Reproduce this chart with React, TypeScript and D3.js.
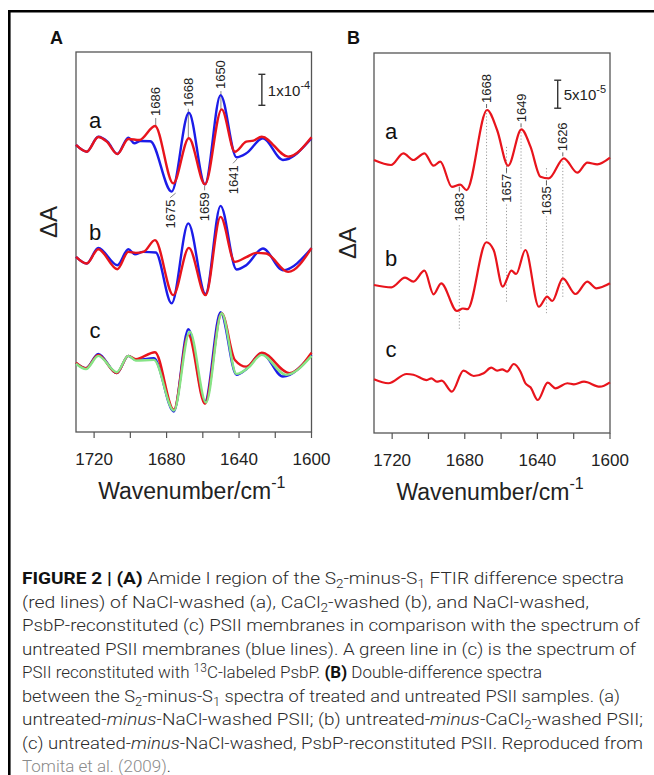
import { useEffect } from 'react';
import * as d3 from 'd3';

type Pt = [number, number];

/* ── Panel A: wavenumber (cm-1) vs ΔA in units of 1e-5 ── */
const A_RED_A: Pt[] = [
  [1730, 0], [1724.1, -2.16], [1717.7, 2.58], [1713, 1.06], [1707.2, -2.9], [1701.1, 1.94], [1695, 1.6],
  [1686.4, 6.13], [1676.3, -12.4], [1667.7, 2.16], [1658.8, -12.7], [1649.6, 11.5], [1642.3, -2.16],
  [1636, 1.06], [1632, 1.4], [1627.5, 2.68], [1612.9, -3.76], [1600, 2.47],
];
const A_BLUE_A: Pt[] = [
  [1730, 0], [1724.1, -2.16], [1717.7, 2.68], [1712.5, 1.0], [1707.2, -2.9], [1701.1, 2.37], [1697.8, 0.54],
  [1694.5, 1.3], [1689, 1.2], [1677.2, -15.05], [1667.7, 10.4], [1658.8, -12.7], [1650.2, 16.1],
  [1641.4, -3.98], [1636, -2.69], [1626.8, 2.15], [1615.8, -4.84], [1600, 2.15],
];
const A_RED_B: Pt[] = [
  [1730, 0], [1724.1, -2.13], [1717.7, 2.48], [1707.2, -3.97], [1701.1, 1.6], [1697, 1.3], [1692.5, 1.7],
  [1686.4, 5.39], [1676.3, -12.35], [1667.7, 2.9], [1658.5, -12.35], [1650.2, 12.9], [1642.3, -1.61],
  [1636, -0.1], [1630.5, 1.29], [1625, 1.1], [1612.9, -4.84], [1600, 2.8],
];
const A_BLUE_B: Pt[] = [
  [1730, 0], [1724.1, -2.13], [1717.7, 2.9], [1707.2, -2.68], [1701.1, 2.48], [1697.5, 0.87], [1693, 1.6],
  [1686, 1.4], [1677.2, -15.0], [1668, 10.8], [1658.5, -12.0], [1650.2, 16.45], [1641.4, -4.06],
  [1636, -2.68], [1626.8, 2.7], [1615.8, -4.29], [1600, 2.8],
];
const A_RED_C: Pt[] = [
  [1730, 0.2], [1724.5, -1.6], [1717.7, 2.68], [1707.5, -3.2], [1701.1, 2.35], [1697, 1.3], [1686.4, 3.55],
  [1676, -15.0], [1668, 9.13], [1658.8, -13.1], [1649.6, 16.1], [1642.3, 1.06], [1636, -1.1],
  [1627.5, 3.42], [1612.2, -3.2], [1600, 3.42],
];
const A_BLUE_C: Pt[] = [
  [1730, 0], [1724.5, -1.6], [1717.7, 3.0], [1707.5, -3.2], [1701.1, 2.35], [1697, 1.06], [1687, 1.6],
  [1676, -15.6], [1668, 10.97], [1658.8, -12.4], [1650.2, 16.45], [1641.4, -3.77], [1636, -1.94],
  [1627.5, 3.2], [1615.8, -4.3], [1600, 2.68],
];
const A_GREEN_C: Pt[] = [
  [1730, -0.2], [1724.5, -1.9], [1717.7, 2.35], [1707.5, -2.9], [1701.1, 2.35], [1697, 0.84], [1687, 1.06],
  [1676, -15.3], [1667.2, 10.2], [1658.2, -12.7], [1649.6, 16.1], [1641.4, -3.45], [1635, -1.5],
  [1627.5, 2.68], [1614, -3.77], [1600, 2.35],
];

/* ── Panel B: double-difference, ΔA in units of 1e-5 ── */
const B_A: Pt[] = [
  [1730, 0], [1720.6, -0.89], [1713.8, 1.2], [1708.3, 0], [1702.2, 1.2], [1697.2, -1.02], [1693.5, -0.3],
  [1687.1, -4.8], [1682.5, -4.4], [1679, -5.36], [1667.7, 8.93], [1662.2, 5.36], [1656.1, -1.02],
  [1648.8, 5.48], [1643.8, 2.38], [1638.3, -2.98], [1633.7, -3.27], [1625.4, 0.3], [1618, -2.27],
  [1612.5, -0.48], [1607, -0.77], [1600, 0.41],
];
const B_B: Pt[] = [
  [1730, 0], [1720.4, -0.41], [1712.9, 1.3], [1708.3, 0.59], [1702.2, 2.55], [1697.2, -1.66], [1693, 0.3],
  [1684.3, -4.64], [1681, -4.2], [1678.5, -4.3], [1668.1, 7.63], [1664.1, 6.25], [1659.1, -0.3],
  [1654.3, 2.55], [1651.7, 1.96], [1646.6, 6.25], [1639.2, -3.88], [1634.6, -2.09], [1631.8, -2.86],
  [1626, 1.2], [1619, -1.61], [1612.5, 0.59], [1607.5, -0.59], [1600, 0.3],
];
const B_C: Pt[] = [
  [1730, 0], [1722.1, -0.71], [1712, 0.95], [1708.3, 0.82], [1700.9, -0.13], [1698.4, 0.18], [1695.4, -0.43],
  [1692.7, -0.25], [1687.1, -2.21], [1680.7, 1.54], [1675.1, 0.59], [1669.6, 1.07], [1665.4, 2.07],
  [1662.2, 1.54], [1659.4, 1.79], [1656.7, 1.36], [1653, 2.73], [1649.3, 1.36], [1646.6, -0.71],
  [1643.8, -1.43], [1639.8, -3.7], [1634.3, -0.61], [1630, -1.61], [1623.5, -0.71], [1619.9, -0.89],
  [1614.3, -0.43], [1605.6, -1.32], [1600, -0.54],
];

const TICKS_MAJOR = [1720, 1680, 1640, 1600];
const TICKS_MINOR = [1700, 1660, 1620];

const A_LABELS = [
  { wn: 1686, text: '1686', dir: 'up' },
  { wn: 1668, text: '1668', dir: 'up' },
  { wn: 1650, text: '1650', dir: 'up' },
  { wn: 1675, text: '1675', dir: 'down', textWn: 1678 },
  { wn: 1659, text: '1659', dir: 'down' },
  { wn: 1641, text: '1641', dir: 'down', textWn: 1643.3 },
];
// dotted guide extents in ΔA units (panel B data space)
const B_LABELS = [
  { wn: 1683, text: '1683', dir: 'down', dot: [37.1, 18.4] },
  { wn: 1668, text: '1668', dir: 'up', dot: [57.7, 34.5] },
  { wn: 1657, text: '1657', dir: 'down', dot: [51.1, 23.4] },
  { wn: 1649, text: '1649', dir: 'up', dot: [54.3, 32.7] },
  { wn: 1635, text: '1635', dir: 'down', dot: [47.3, 21.4] },
  { wn: 1626, text: '1626', dir: 'up', dot: [49.1, 24.1] },
];

type Seg = { t: string; s?: 'b' | 'i' | 'sub' | 'sup' | 'g' };
const CAPTION: Seg[][] = [
  [{ t: 'FIGURE 2 | (A)', s: 'b' }, { t: ' Amide I region of the S' }, { t: '2', s: 'sub' }, { t: '-minus-S' }, { t: '1', s: 'sub' }, { t: ' FTIR difference spectra' }],
  [{ t: '(red lines) of NaCl-washed (a), CaCl' }, { t: '2', s: 'sub' }, { t: '-washed (b), and NaCl-washed,' }],
  [{ t: 'PsbP-reconstituted (c) PSII membranes in comparison with the spectrum of' }],
  [{ t: 'untreated PSII membranes (blue lines). A green line in (c) is the spectrum of' }],
  [{ t: 'PSII reconstituted with ' }, { t: '13', s: 'sup' }, { t: 'C-labeled PsbP. ' }, { t: '(B)', s: 'b' }, { t: ' Double-difference spectra' }],
  [{ t: 'between the S' }, { t: '2', s: 'sub' }, { t: '-minus-S' }, { t: '1', s: 'sub' }, { t: ' spectra of treated and untreated PSII samples. (a)' }],
  [{ t: 'untreated-' }, { t: 'minus', s: 'i' }, { t: '-NaCl-washed PSII; (b) untreated-' }, { t: 'minus', s: 'i' }, { t: '-CaCl' }, { t: '2', s: 'sub' }, { t: '-washed PSII;' }],
  [{ t: '(c) untreated-' }, { t: 'minus', s: 'i' }, { t: '-NaCl-washed, PsbP-reconstituted PSII. Reproduced from' }],
  [{ t: 'Tomita et al. (2009)', s: 'g' }, { t: '.' }],
];
const CAPTION_WIDTHS = [602, 567, 618, 614, 520, 598, 621, 621, 0];

const W = 654, H = 775;
const FONT = '"Liberation Sans", Arial, Helvetica, sans-serif';
const RED = '#e8141c', BLUE = '#1c1ce8', GREEN = '#86e486';

interface PanelCfg {
  left: number; right: number; top: number; bottom: number; span: number;
  offsets: { a: number; b: number; c: number };
  series: { data: Pt[]; color: string; off: 'a' | 'b' | 'c' }[];
  letterWn: number; letters: { t: string; v: number }[];
  scaleWn: number; scaleTop: number; scaleLen: number; scaleText: string; scaleSup: string; scaleFont: number;
  ylabelY: number; ylabelX: number; panel: string; panelX: number;
  lineW: number;
}

const A_CFG: PanelCfg = {
  left: 76, right: 311.5, top: 52, bottom: 432, span: 122.6,
  offsets: { a: 92.6, b: 56.5, c: 22.2 },
  series: [
    { data: A_BLUE_A, color: BLUE, off: 'a' }, { data: A_RED_A, color: RED, off: 'a' },
    { data: A_BLUE_B, color: BLUE, off: 'b' }, { data: A_RED_B, color: RED, off: 'b' },
    { data: A_BLUE_C, color: BLUE, off: 'c' }, { data: A_RED_C, color: RED, off: 'c' },
    { data: A_GREEN_C, color: GREEN, off: 'c' },
  ],
  letterWn: 1719.5, letters: [{ t: 'a', v: 100.6 }, { t: 'b', v: 64.5 }, { t: 'c', v: 32.9 }],
  scaleWn: 1627.4, scaleTop: 115.4, scaleLen: 10, scaleText: '1x10', scaleSup: '-4', scaleFont: 15,
  ylabelY: 222, ylabelX: 48, panel: 'A', panelX: 50, lineW: 2.4,
};

const B_CFG: PanelCfg = {
  left: 374, right: 610, top: 53, bottom: 433, span: 67.86,
  offsets: { a: 48.75, b: 26.43, c: 9.59 },
  series: [
    { data: B_A, color: RED, off: 'a' }, { data: B_B, color: RED, off: 'b' }, { data: B_C, color: RED, off: 'c' },
  ],
  letterWn: 1720.6, letters: [{ t: 'a', v: 53.8 }, { t: 'b', v: 31.25 }, { t: 'c', v: 15 }],
  scaleWn: 1628.8, scaleTop: 63.0, scaleLen: 5, scaleText: '5x10', scaleSup: '-5', scaleFont: 15,
  ylabelY: 243, ylabelX: 347, panel: 'B', panelX: 347, lineW: 2.2,
};

const valueAt = (s: Pt[], wn: number) =>
  s.reduce((best, p) => (Math.abs(p[0] - wn) < Math.abs(best[0] - wn) ? p : best))[1];

function Panel({ p, kind }: { p: PanelCfg; kind: 'A' | 'B' }) {
  const x = d3.scaleLinear().domain([1730, 1600]).range([p.left, p.right]);
  const y = d3.scaleLinear().domain([0, p.span]).range([p.bottom, p.top]);
  const path = (data: Pt[], off: number) =>
    d3.line<Pt>().x(d => x(d[0])).y(d => y(d[1] + off)).curve(d3.curveMonotoneX)(data) ?? '';

  const annos: JSX.Element[] = [];
  if (kind === 'A') {
    const pair = [A_RED_A, A_BLUE_A];
    A_LABELS.forEach((l, i) => {
      const px = x(l.wn);
      const tx = x(l.textWn ?? l.wn);
      const ys = pair.map(s => y(valueAt(s, l.wn) + p.offsets.a));
      if (l.dir === 'up') {
        const y0 = ys[0];
        const y1 = Math.min(Math.min(...ys) - 4, y0 - 8);
        annos.push(
          <g key={'a' + i}>
            <line x1={px} x2={px} y1={y0} y2={y1} stroke="#777" strokeWidth={0.9} />
            <text transform={`translate(${tx},${y1 - 2}) rotate(-90)`} fontSize={13} dominantBaseline="central" fill="#222">{l.text}</text>
          </g>
        );
      } else {
        const yb = Math.max(...ys);
        annos.push(
          <g key={'a' + i}>
            <line x1={px} x2={tx} y1={yb + 1.5} y2={yb + 6} stroke="#777" strokeWidth={0.9} />
            <text transform={`translate(${tx},${yb + 8}) rotate(-90)`} fontSize={13} textAnchor="end" dominantBaseline="central" fill="#222">{l.text}</text>
          </g>
        );
      }
    });
  } else {
    B_LABELS.forEach((l, i) => {
      const px = x(l.wn);
      const yc = y(valueAt(B_A, l.wn) + p.offsets.a);
      const dot = (
        <line x1={px} x2={px} y1={y(l.dot[0])} y2={y(l.dot[1])} stroke="#9a9a9a" strokeWidth={1} strokeDasharray="1.2,2" />
      );
      if (l.dir === 'up') {
        annos.push(
          <g key={'b' + i}>
            {dot}
            <line x1={px} x2={px} y1={yc - 2} y2={yc - 6} stroke="#555" strokeWidth={0.9} />
            <text transform={`translate(${px},${yc - 7}) rotate(-90)`} fontSize={13} dominantBaseline="central" fill="#222">{l.text}</text>
          </g>
        );
      } else {
        annos.push(
          <g key={'b' + i}>
            {dot}
            <line x1={px} x2={px} y1={yc + 2} y2={yc + 7} stroke="#555" strokeWidth={0.9} />
            <g transform={`translate(${px},${yc + 8}) rotate(-90)`}>
              <rect x={-30} y={-6.5} width={30} height={13} fill="#fff" />
              <text fontSize={13} textAnchor="end" dominantBaseline="central" fill="#222">{l.text}</text>
            </g>
          </g>
        );
      }
    });
  }

  const sx = x(p.scaleWn);
  const sy0 = y(p.scaleTop), sy1 = y(p.scaleTop - p.scaleLen);

  return (
    <g>
      <text x={p.panelX} y={44} fontSize={18} fontWeight="bold" fill="#111">{p.panel}</text>
      <rect x={p.left} y={p.top} width={p.right - p.left} height={p.bottom - p.top} fill="none" stroke="#555" strokeWidth={1.3} />
      {annos}
      {p.series.map((s, i) => (
        <path key={i} d={path(s.data, p.offsets[s.off])} fill="none" stroke={s.color} strokeWidth={p.lineW} strokeLinejoin="round" />
      ))}
      {p.letters.map(l => (
        <text key={l.t} x={x(p.letterWn)} y={y(l.v)} fontSize={22} textAnchor="middle" dominantBaseline="central" fill="#111">{l.t}</text>
      ))}
      <g stroke="#333" strokeWidth={1.4}>
        <line x1={sx} x2={sx} y1={sy0} y2={sy1} />
        <line x1={sx - 3.5} x2={sx + 3.5} y1={sy0} y2={sy0} />
        <line x1={sx - 3.5} x2={sx + 3.5} y1={sy1} y2={sy1} />
      </g>
      <text x={sx + 6} y={(sy0 + sy1) / 2 + 6} fontSize={p.scaleFont} fill="#222">
        {p.scaleText}<tspan dy={-7} fontSize={11}>{p.scaleSup}</tspan>
      </text>
      {[...TICKS_MAJOR, ...TICKS_MINOR].map(t => (
        <line key={t} x1={x(t)} x2={x(t)} y1={p.bottom} y2={p.bottom + 6} stroke="#555" strokeWidth={1.2} />
      ))}
      {TICKS_MAJOR.map(t => (
        <text key={t} x={x(t)} y={p.bottom + 33} fontSize={17} textAnchor="middle" fill="#222">{t}</text>
      ))}
      <text x={(p.left + p.right) / 2 - 2} y={p.bottom + 67} fontSize={23} textAnchor="middle" fill="#222">
        Wavenumber/cm<tspan dy={-11} fontSize={16}>-1</tspan>
      </text>
      <text transform={`translate(${p.ylabelX},${p.ylabelY}) rotate(-90)`} fontSize={24} textAnchor="middle" dominantBaseline="central" fill="#222">ΔA</text>
    </g>
  );
}

function Caption() {
  return (
    <g fontFamily='Roboto, "Liberation Sans", Arial, sans-serif' fontSize={17} fontWeight={300} fill="#2b2b2b">
      {CAPTION.map((line, li) => {
        let shift = 0;
        const w = CAPTION_WIDTHS[li];
        return (
          <text key={li} x={22} y={584 + li * 23.5} style={{ whiteSpace: 'pre' }}
            {...(w ? { textLength: w, lengthAdjust: 'spacingAndGlyphs' } : {})}>
            {line.map((s, si) => {
              const target = s.s === 'sub' ? 4 : s.s === 'sup' ? -6 : 0;
              const dy = target - shift;
              shift = target;
              return (
                <tspan key={si} dy={dy || undefined}
                  fontSize={s.s === 'sub' || s.s === 'sup' ? 12 : undefined}
                  fontWeight={s.s === 'b' ? 700 : undefined}
                  fontStyle={s.s === 'i' ? 'italic' : undefined}
                  fill={s.s === 'b' ? '#111' : s.s === 'g' ? '#8a8a8a' : undefined}>
                  {s.t}
                </tspan>
              );
            })}
          </text>
        );
      })}
    </g>
  );
}

export default function App() {
  useEffect(() => { document.body.style.margin = '0'; }, []);
  return (
    <svg width={W} height={H} style={{ display: 'block', background: '#fff' }} fontFamily={FONT}>
      <line x1={8} x2={W} y1={11.2} y2={11.2} stroke="#000" strokeWidth={2.6} />
      <line x1={9.3} x2={9.3} y1={10} y2={H} stroke="#000" strokeWidth={2.6} />
      <Panel p={A_CFG} kind="A" />
      <Panel p={B_CFG} kind="B" />
      <Caption />
    </svg>
  );
}
